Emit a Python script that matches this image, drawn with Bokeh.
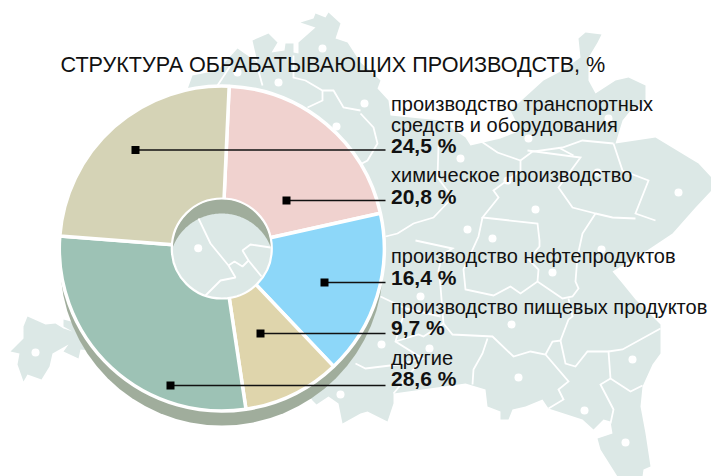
import numpy as np
from bokeh.plotting import figure
from bokeh.models import Range1d
from bokeh.core.properties import value
from bokeh.embed import file_html
from bokeh.resources import INLINE

# ---- chart data
title = "СТРУКТУРА ОБРАБАТЫВАЮЩИХ ПРОИЗВОДСТВ, %"
categories = ["химическое производство", "производство нефтепродуктов",
              "производство пищевых продуктов", "другие",
              "производство транспортных\nсредств и оборудования"]
shares = [20.8, 16.4, 9.7, 28.6, 24.5]
colors = ["#f0d2cf", "#8dd7f9", "#dfd5ac", "#9dc2b5", "#d5d3b6"]

# ---- layout (reference pixel space)
START = 2.6
CX, CY, R = 221.3, 248.0, 162.5
DROP = 15.5
R_SHADOW = 161.5
HOLE = 49.5
SHADOW = "#a0ad9c"
MAP = "#dce8e6"
FONT = "Liberation Sans"
TEXT_SHIFT = 8.0
leader_x = [286, 324, 260, 170, 135]
leader_y = [200, 282, 333, 385, 149.5]
leader_end = 385
label_x = 390.5
label_base = [[182.5], [263], [314], [365], [111, 132]]
value_base = [204, 285, 335, 386, 153]

# ---- decorative map behind the pie
map_outline = [(188,86),(192,75),(217,70),(237,48),(257,62),(252,40),(268,33),(277,42),(271,52),(284,50),
 (285,43),(293,43),(293,52),(298,53),(298,42),(315,27),(300,22),(313,18),(315,13),(325,17),(328,12),(340,23),
 (335,38),(347,42),(360,62),(380,80),(377,88),(388,100),(390,115),(440,120),(465,137),(470,145),(500,138),
 (520,130),(510,110),(543,80),(562,70),(580,57),(578,38),(585,32),(601,34),(597,42),(588,57),(588,80),(595,93),
 (615,80),(628,77),(645,85),(645,100),(630,110),(622,120),(615,143),(655,137),(688,157),(698,163),(711,177),
 (711,190),(695,207),(672,233),(648,249),(612,271),(622,283),(635,299),(660,324),(660,353),(652,364),(642,386),
 (640,406),(645,433),(650,466),(643,469),(642,476),(617,476),(600,449),(597,438),(612,433),(610,421),(603,419),
 (593,429),(582,419),(548,408),(542,399),(525,406),(512,409),(508,419),(500,419),(500,411),(487,406),(485,389),
 (465,383),(393,393),(393,403),(387,421),(367,411),(360,413),(342,423),(338,403),(328,396),(316,404),(312,400),
 (250,300),(150,200)]
island = [(10,351),(23,338),(23,326),(27,316),(45,324),(55,323),(63,328),(72,331),(63,326),(63,319),(82,324),
 (90,350),(80,349),(78,358),(63,351),(68,344),(52,353),(49,366),(41,379),(27,374),(23,381),(17,364),(19,353)]
borders = [
 [(217,85),(232,62)],
 [(257,67),(262,85)],
 [(293,55),(293,77),(305,80),(322,90),(333,90),(343,107),(360,110)],
 [(322,90),(322,100),(307,107)],
 [(360,113),(373,127),(377,143),(367,160),(352,168)],
 [(475,137),(497,152),(520,160),(532,151),(562,147),(582,140),(613,143)],
 [(520,160),(520,170),(493,190),(498,197),(482,217),(537,223),(539,240),(539,246),(528,259),(538,269),(537,281)],
 [(438,145),(437,177),(452,197),(433,217),(413,223),(397,233),(385,236)],
 [(527,150),(580,157),(558,187),(572,207),(595,213),(582,233),(577,256),(575,281),(578,288),(572,296),(562,298),(537,281),(520,293),(510,286),(493,295),(465,289),(463,269),(478,236),(482,217)],
 [(558,147),(573,155)],
 [(613,143),(622,170),(648,180),(635,213),(655,220)],
 [(595,213),(612,217),(635,218)],
 [(440,286),(443,323),(452,334),(492,336),(513,356),(530,351),(545,354),(568,381),(558,389),(563,399),(548,408)],
 [(440,286),(438,270),(442,254),(452,248),(415,240)],
 [(487,338),(482,353),(473,369),(472,384)],
 [(545,354),(552,341),(560,340),(565,363),(575,366),(587,351),(608,351),(610,378),(630,391),(642,385)],
 [(610,378),(600,384),(613,409),(610,423)],
 [(560,340),(568,319),(572,316),(568,298)],
 [(608,351),(622,349),(660,328)],
 [(380,296),(405,308),(395,341),(422,358),(398,364),(365,368),(355,363)],
 [(405,308),(440,316)],
 [(395,341),(418,334),(423,336),(443,323)],
 [(422,358),(393,393)],
]
map_dots = [(322,48),(278,82),(237,72),(336,126),(364,103),(460,158),(528,138),(608,118),(678,192),(597,172),
 (535,209),(467,229),(492,238),(507,180),(552,272),(420,296),(511,324),(381,344),(429,348),(632,359),
 (518,377),(584,410),(625,442),(601,249),(35,352),(340,394)]
hole_borders = [
 [(198,218),(210,243),(228,265),(235,277),(220,280),(205,295)],
 [(228,265),(234,261),(242,266),(248,260),(242,250),(250,244),(270,247)],
 [(248,260),(261,276)],
]
hole_dots = [(197.7,247.7)]

W, H = 711, 476
p = figure(width=W, height=H, x_range=Range1d(0, W), y_range=Range1d(H, 0),
           output_backend="svg", toolbar_location=None,
           x_axis_location=None, y_axis_location=None, min_border=0,
           background_fill_color="white", outline_line_color=None)
p.grid.visible = False

def xs(pts): return [q[0] for q in pts]
def ys(pts): return [q[1] for q in pts]

# map
p.patch(xs(map_outline), ys(map_outline), fill_color=MAP, line_color=None)
p.patch(xs(island), ys(island), fill_color=MAP, line_color=None)
p.multi_line([xs(b) for b in borders], [ys(b) for b in borders], line_color="white", line_width=1.8, line_join="miter")
p.scatter(xs(map_dots), ys(map_dots), marker="circle", size=8, fill_color="white", line_color=None)

# pie shadow and slices
p.circle([CX], [CY+DROP], radius=R_SHADOW, fill_color=SHADOW, line_color=None)
edges = START + np.cumsum([0] + shares) * 3.6
p.wedge(x=[CX]*5, y=[CY]*5, radius=R,
        start_angle=list(90-edges[:-1]), end_angle=list(90-edges[1:]),
        start_angle_units="deg", end_angle_units="deg", direction="clock",
        fill_color=colors, line_color="white", line_width=3.5)

# hole
p.circle([CX], [CY], radius=HOLE, fill_color=SHADOW, line_color=None)
t = np.linspace(0, 2*np.pi, 361)
hx, hy = CX + HOLE*np.cos(t), CY + HOLE*np.sin(t)
ucy = CY + 17.5; ur = 52.5
keep = (hx-CX)**2 + (hy-ucy)**2 <= ur**2
a = np.sort(np.where(keep)[0])
xl = hx[a].tolist(); yl = hy[a].tolist()
ang_r = np.arctan2(yl[0]-ucy, xl[0]-CX)
b = np.linspace(np.arctan2(yl[-1]-ucy, xl[-1]-CX) % (2*np.pi), 2*np.pi + ang_r, 120)
p.patch(xl + (CX+ur*np.cos(b)).tolist(), yl + (ucy+ur*np.sin(b)).tolist(), fill_color=MAP, line_color=None)
p.multi_line([xs(b_) for b_ in hole_borders], [ys(b_) for b_ in hole_borders], line_color="white", line_width=1.8)
p.scatter(xs(hole_dots), ys(hole_dots), marker="circle", size=8, fill_color="white", line_color=None)
p.circle([CX], [CY], radius=HOLE+0.5, fill_color=None, line_color="white", line_width=2.2)

# leaders
p.segment(leader_x, leader_y, [leader_end]*5, leader_y, line_color="#111111", line_width=1.3)
p.scatter(leader_x, leader_y, marker="square", size=8, fill_color="black", line_color=None)

# text
p.text([60], [71.5-TEXT_SHIFT], text=[title], text_font=value(FONT), text_font_size="21.6px",
       text_color="#111111", text_baseline="alphabetic")
for cat, bases, val, vb in zip(categories, label_base, shares, value_base):
    for line, b in zip(cat.split("\n"), bases):
        p.text([label_x], [b-TEXT_SHIFT], text=[line], text_font=value(FONT), text_font_size="20px",
               text_color="#111111", text_baseline="alphabetic")
    p.text([label_x], [vb-TEXT_SHIFT], text=[f"{val:.1f} %".replace(".", ",")], text_font=value(FONT),
           text_font_size="21px", text_font_style="bold", text_color="#111111", text_baseline="alphabetic")

open("out.html", "w").write(file_html(p, INLINE))
